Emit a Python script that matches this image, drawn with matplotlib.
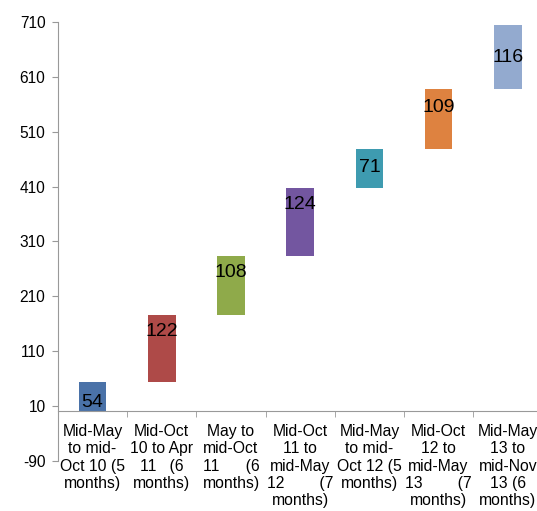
import numpy as np
import matplotlib.pyplot as plt
from matplotlib.ticker import FixedLocator

plt.rcParams["font.family"] = ["Liberation Sans", "DejaVu Sans"]

# waterfall data: months-per-period increments
periods = [
    "Mid-May\nto mid-\nOct 10 (5\nmonths)",
    "Mid-Oct\n10 to Apr\n11   (6\nmonths)",
    "May to\nmid-Oct\n11      (6\nmonths)",
    "Mid-Oct\n11 to\nmid-May\n12        (7\nmonths)",
    "Mid-May\nto mid-\nOct 12 (5\nmonths)",
    "Mid-Oct\n12 to\nmid-May\n13        (7\nmonths)",
    "Mid-May\n13 to\nmid-Nov\n13 (6\nmonths)",
]
increments = [54, 122, 108, 124, 71, 109, 116]
y_ticks = [-90, 10, 110, 210, 310, 410, 510, 610, 710]

colors = ["#4A72A8", "#AE4A48", "#8FAA4A", "#7356A0", "#3E9BB0", "#DE8240", "#93AACF"]
# vertical shift of each value label from the bar middle (data units)
label_shift = [-10, 30, 23, 31, 1, 20, 0]

vals = np.array(increments)
bottoms = np.concatenate([[0], np.cumsum(vals)[:-1]])
x = np.arange(len(vals))

fig = plt.figure(figsize=(5.37, 5.11), dpi=100)
ax = fig.add_axes([58 / 537, 50.3 / 511, 484.4 / 537, 438.7 / 511])

ax.bar(x, vals, bottom=bottoms, width=0.4, color=colors, zorder=2)
for xi, b, v, s in zip(x, bottoms, vals, label_shift):
    ax.text(xi, b + v / 2 + s, str(v), ha="center", va="center",
            fontsize=14, color="black", zorder=3)

ax.set_xlim(-0.5, len(vals) - 0.5)
ax.set_ylim(-90, 710)

ax.tick_params(axis="x", which="major", length=0, pad=9, labelsize=11.3)
ax.tick_params(axis="x", which="minor", length=4, color="#999999", direction="out")
ax.tick_params(axis="y", length=4, color="#999999", pad=5, labelsize=11.2)

ax.set_yticks(y_ticks)
ax.set_yticklabels([str(t) for t in y_ticks])
ax.set_xticks(x)
ax.set_xticklabels(periods, linespacing=1.19, va="top")
ax.xaxis.set_minor_locator(FixedLocator(np.arange(-0.5, len(vals), 1.0)))

for side in ["top", "right"]:
    ax.spines[side].set_visible(False)
ax.spines["bottom"].set_position(("data", 0))
ax.spines["bottom"].set_color("#999999")
ax.spines["left"].set_color("#999999")

fig.savefig("out.png", dpi=100)
